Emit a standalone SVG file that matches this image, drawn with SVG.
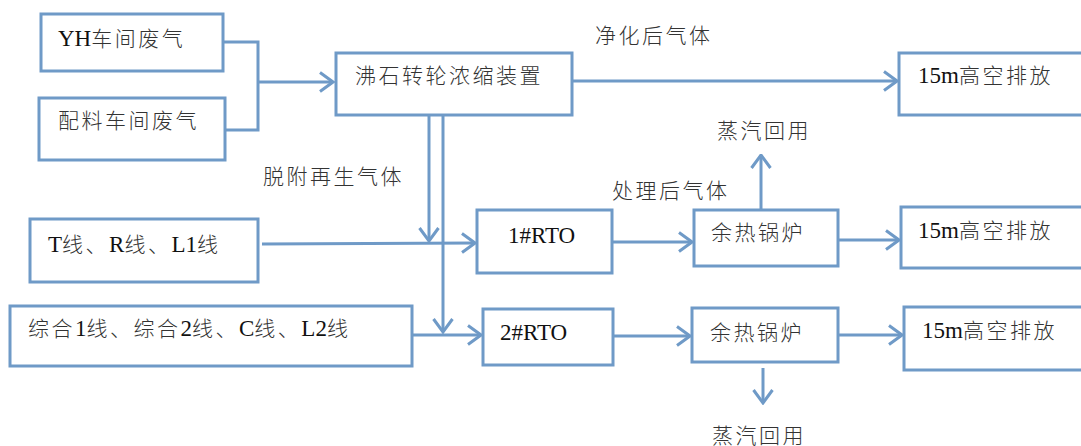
<svg xmlns="http://www.w3.org/2000/svg" width="1081" height="446" viewBox="0 0 1081 446">
<style>
.box{fill:#fff;stroke:#6f9ac7;stroke-width:3}
.ln{fill:none;stroke:#6f9ac7;stroke-width:3}
.t{font-family:"Liberation Serif","Noto Sans CJK SC",serif;font-size:21px;font-weight:300;fill:#333;letter-spacing:2.5px}
.l{font-size:23px;letter-spacing:0;font-weight:400;fill:#111}
</style>
<defs>
<marker id="ah" markerUnits="userSpaceOnUse" viewBox="0 0 16 22" refX="14.5" refY="11" markerWidth="16" markerHeight="22" orient="auto">
<path d="M1.5,1.5 L14.5,11 L1.5,20.5" fill="none" stroke="#6f9ac7" stroke-width="3"/>
</marker>
</defs>
<rect width="1081" height="446" fill="#fff"/>
<g id="connectors">
<polyline class="ln" points="223,42 258,42 258,130 225,130"/>
<line class="ln" x1="258" y1="82" x2="333" y2="82" marker-end="url(#ah)"/>
<line class="ln" x1="572" y1="81" x2="897" y2="81" marker-end="url(#ah)"/>
<line class="ln" x1="429" y1="115" x2="429" y2="241" marker-end="url(#ah)"/>
<line class="ln" x1="443" y1="115" x2="443" y2="332" marker-end="url(#ah)"/>
<line class="ln" x1="262" y1="244" x2="475" y2="243" marker-end="url(#ah)"/>
<line class="ln" x1="412" y1="335" x2="481" y2="335" marker-end="url(#ah)"/>
<line class="ln" x1="612" y1="242" x2="692" y2="242" marker-end="url(#ah)"/>
<line class="ln" x1="838" y1="240" x2="899" y2="240" marker-end="url(#ah)"/>
<line class="ln" x1="761" y1="210" x2="761" y2="155" marker-end="url(#ah)"/>
<line class="ln" x1="613" y1="336" x2="690" y2="336" marker-end="url(#ah)"/>
<line class="ln" x1="838" y1="335" x2="902" y2="335" marker-end="url(#ah)"/>
<line class="ln" x1="763" y1="368" x2="763" y2="403" marker-end="url(#ah)"/>
</g>
<g id="n-yh"><rect class="box" x="41" y="14" width="182" height="57"/><text class="t" x="58" y="46"><tspan class="l">YH</tspan>车间废气</text></g>
<g id="n-pl"><rect class="box" x="39" y="98" width="186" height="62"/><text class="t" x="58" y="128">配料车间废气</text></g>
<g id="n-zs"><rect class="box" x="336" y="53" width="236" height="62"/><text class="t" x="355" y="83">沸石转轮浓缩装置</text></g>
<g id="n-out1"><rect class="box" x="899" y="53" width="190" height="62"/><text class="t" x="918" y="83"><tspan class="l">15m</tspan>高空排放</text></g>
<g id="n-t"><rect class="box" x="30" y="219" width="228" height="63"/><text class="t" x="48" y="252"><tspan class="l">T</tspan>线、<tspan class="l">R</tspan>线、<tspan class="l">L1</tspan>线</text></g>
<g id="n-zh"><rect class="box" x="10" y="306" width="402" height="60"/><text class="t" x="28" y="336">综合<tspan class="l">1</tspan>线、综合<tspan class="l">2</tspan>线、<tspan class="l">C</tspan>线、<tspan class="l">L2</tspan>线</text></g>
<g id="n-rto1"><rect class="box" x="477" y="210" width="135" height="63"/><text class="t" x="508" y="243"><tspan class="l">1#RTO</tspan></text></g>
<g id="n-b1"><rect class="box" x="694" y="210" width="144" height="56"/><text class="t" x="711" y="240">余热锅炉</text></g>
<g id="n-out2"><rect class="box" x="901" y="207" width="190" height="61"/><text class="t" x="918" y="238"><tspan class="l">15m</tspan>高空排放</text></g>
<g id="n-rto2"><rect class="box" x="483" y="309" width="130" height="56"/><text class="t" x="500" y="340"><tspan class="l">2#RTO</tspan></text></g>
<g id="n-b2"><rect class="box" x="692" y="308" width="146" height="54"/><text class="t" x="710" y="340">余热锅炉</text></g>
<g id="n-out3"><rect class="box" x="904" y="307" width="190" height="63"/><text class="t" x="922" y="338"><tspan class="l">15m</tspan>高空排放</text></g>
<g id="labels">
<text class="t" x="595" y="43">净化后气体</text>
<text class="t" x="263" y="184">脱附再生气体</text>
<text class="t" x="612" y="198">处理后气体</text>
<text class="t" x="717" y="138">蒸汽回用</text>
<text class="t" x="712" y="443">蒸汽回用</text>
</g>
</svg>
